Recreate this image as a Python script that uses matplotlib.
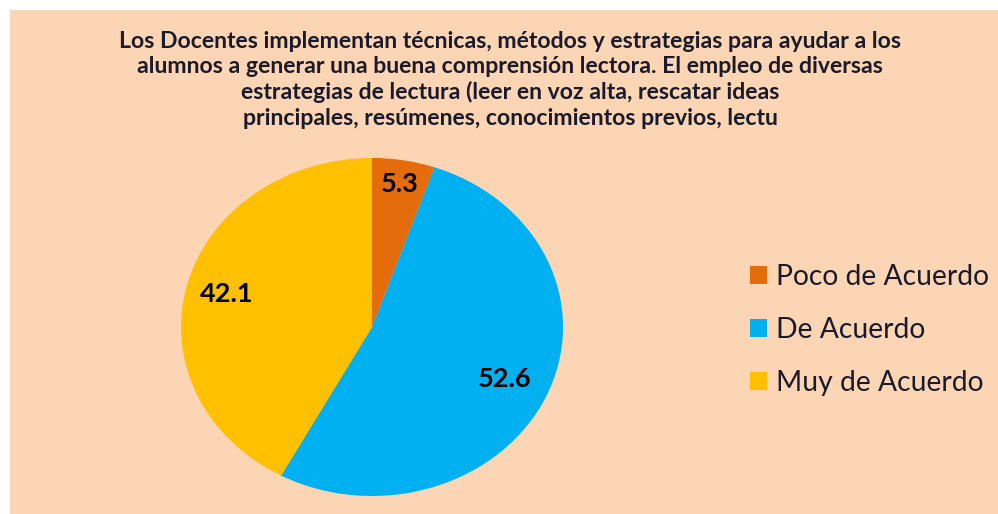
import numpy as np
import matplotlib
matplotlib.use("Agg")
import matplotlib.pyplot as plt
from matplotlib.patches import Rectangle

categories = ["Poco de Acuerdo", "De Acuerdo", "Muy de Acuerdo"]
values = [5.3, 52.6, 42.1]
colors = ["#E46C0A", "#00B0F0", "#FFC000"]
label_dist = [0.86, 0.76, 0.785]
title = ("Los Docentes implementan técnicas, métodos y estrategias para ayudar a los\n"
         "alumnos a generar una buena comprensión lectora. El empleo de diversas\n"
         "estrategias de lectura (leer en voz alta, rescatar ideas\n"
         "principales, resúmenes, conocimientos previos, lectu")

plt.rcParams['font.family'] = ['Lato', 'DejaVu Sans']
W, H = 998, 514
fig = plt.figure(figsize=(W/100, H/100), dpi=100, facecolor="white")
bg = "#FCD5B5"
fig.patches.append(Rectangle((10/W, 0), 1 - 10/W, 1 - 10/H, transform=fig.transFigure,
                             facecolor=bg, edgecolor="none", zorder=-10))

ax = fig.add_axes([181/W, 1 - 496/H, (563-181)/W, (496-158)/H])
wedges, _, autotexts = ax.pie(values, colors=colors, startangle=90, counterclock=False,
                              autopct=lambda p: "", radius=1.0, frame=False,
                              wedgeprops=dict(linewidth=0))
ax.set_aspect('auto')
ax.set_xlim(-1, 1)
ax.set_ylim(-1, 1)
ax.axis('off')
for w, v, d, t in zip(wedges, values, label_dist, autotexts):
    ang = np.deg2rad((w.theta1 + w.theta2) / 2)
    t.set_text(f"{v:.1f}")
    t.set_position((d*np.cos(ang), d*np.sin(ang)))
    t.set_fontsize(19.5)
    t.set_fontweight('bold')
    t.set_color("black")

fig.text(510/W, 1 - 31/H, title, ha='center', va='top', fontsize=16.6,
         fontweight='bold', color='#1a1a2a', linespacing=1.24)

handles = [Rectangle((0, 0), 1, 1, facecolor=c, edgecolor='none') for c in colors]
leg = fig.legend(handles, categories, loc='center left', bbox_to_anchor=(725/W, 1 - 330/H),
                 frameon=False, fontsize=20.3, handlelength=0.6, handleheight=0.6,
                 handletextpad=0.3, labelspacing=0.95, labelcolor='#1a1a2a')

fig.savefig("out.png", dpi=100, facecolor="white")
